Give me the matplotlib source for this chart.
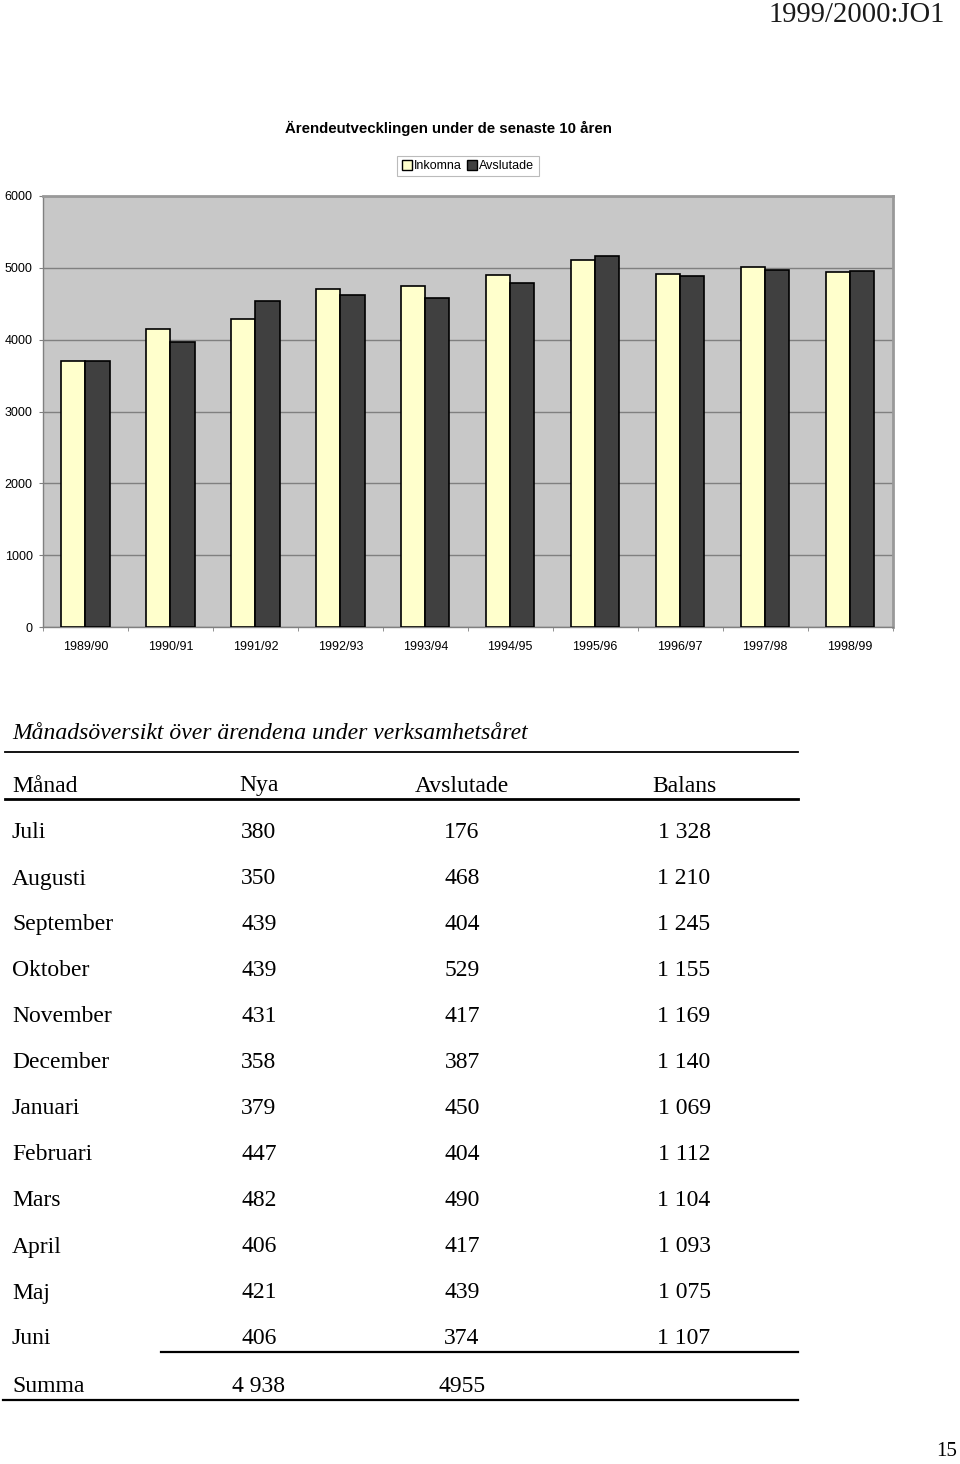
import matplotlib
matplotlib.use('Agg')
import matplotlib.pyplot as plt
from matplotlib.lines import Line2D
from matplotlib.patches import Patch

# chart data
seasons = ['1989/90', '1990/91', '1991/92', '1992/93', '1993/94',
           '1994/95', '1995/96', '1996/97', '1997/98', '1998/99']
inkomna = [3700, 4150, 4290, 4700, 4745, 4895, 5115, 4910, 5005, 4938]
avslutade = [3700, 3970, 4535, 4620, 4580, 4790, 5160, 4880, 4970, 4955]

# table data
months = ['Juli', 'Augusti', 'September', 'Oktober', 'November', 'December',
          'Januari', 'Februari', 'Mars', 'April', 'Maj', 'Juni']
nya = ['380', '350', '439', '439', '431', '358', '379', '447', '482', '406', '421', '406']
avsl = ['176', '468', '404', '529', '417', '387', '450', '404', '490', '417', '439', '374']
balans = ['1 328', '1 210', '1 245', '1 155', '1 169', '1 140', '1 069',
          '1 112', '1 104', '1 093', '1 075', '1 107']
headers = ['Månad', 'Nya', 'Avslutade', 'Balans']
summa = ['Summa', '4 938', '4955', '']

W, H = 960, 1464
fig = plt.figure(figsize=(W / 100, H / 100), dpi=100)
sans = 'Liberation Sans'
serif = 'Liberation Serif'

def fy(y):
    return 1 - y / H

def fx(x):
    return x / W

# ---- bar chart ----
ax = fig.add_axes([fx(43), fy(627), fx(892.5) - fx(43), (627 - 196) / H])
ax.set_facecolor('#c8c8c8')
x = list(range(len(seasons)))
bw = 0.285
ax.bar([i - bw / 2 for i in x], inkomna, bw, color='#ffffcc', edgecolor='black', lw=1.2, zorder=3)
ax.bar([i + bw / 2 for i in x], avslutade, bw, color='#404040', edgecolor='black', lw=1.2, zorder=3)
ax.set_xlim(-0.5, len(seasons) - 0.5)
ax.set_ylim(0, 6000)
ax.set_yticks(range(0, 6001, 1000))
ax.set_yticklabels([str(v) for v in range(0, 6001, 1000)], fontsize=9, family=sans)
ax.set_xticks(x)
ax.set_xticklabels(seasons, fontsize=9, family=sans)
ax.set_xticks([i - 0.5 for i in range(len(seasons) + 1)], minor=True)
ax.tick_params(axis='x', which='major', length=0, pad=10)
ax.tick_params(axis='x', which='minor', length=3, color='#808080')
ax.tick_params(axis='y', length=3, color='#808080', pad=4.5)
ax.grid(axis='y', color='#808080', lw=1, zorder=1)
for s in ['left', 'bottom']:
    ax.spines[s].set_color('#808080')
    ax.spines[s].set_linewidth(1)
for s in ['top', 'right']:
    ax.spines[s].set_color('#999999')
    ax.spines[s].set_linewidth(2)

fig.text(fx(448), fy(128), 'Ärendeutvecklingen under de senaste 10 åren',
         ha='center', va='center', fontsize=10.8, fontweight='bold', family=sans)

handles = [Patch(facecolor='#ffffcc', edgecolor='black'),
           Patch(facecolor='#404040', edgecolor='black')]
leg = fig.legend(handles, ['Inkomna', 'Avslutade'], loc='center',
                 bbox_to_anchor=(fx(468), fy(166)), ncol=2,
                 prop={'family': sans, 'size': 9},
                 handlelength=0.8, handleheight=0.8, handletextpad=0.2,
                 columnspacing=0.4, borderpad=0.35, fancybox=False,
                 borderaxespad=0)
leg.get_frame().set_edgecolor('#aaaaaa')
leg.get_frame().set_linewidth(0.8)

# ---- page header / footer ----
fig.text(fx(945), fy(15), '1999/2000:JO1', ha='right', va='center',
         fontsize=20.6, family=serif, color='#1a1a1a')
fig.text(fx(957), fy(1452), '15', ha='right', va='center', fontsize=15, family=serif)

# ---- table ----
tsize = 17
fig.text(fx(12), fy(734), 'Månadsöversikt över ärendena under verksamhetsåret',
         ha='left', va='center', fontsize=tsize, style='italic', family=serif)

col_x = [12, 259, 462, 684]
col_ha = ['left', 'center', 'center', 'center']

def row(vals, y):
    for v, cx, ha in zip(vals, col_x, col_ha):
        fig.text(fx(cx), fy(y), v, ha=ha, va='center', fontsize=tsize, family=serif)

row(headers, 786)
for i, m in enumerate(months):
    row([m, nya[i], avsl[i], balans[i]], 833 + i * 46)
row(summa, 1386)

def hline(x0, x1, y, lw):
    fig.add_artist(Line2D([fx(x0), fx(x1)], [fy(y), fy(y)], color='black', lw=lw,
                          transform=fig.transFigure))

hline(5, 798, 752, 1.3)
hline(5, 798, 799, 2.0)
hline(161, 798, 1352, 1.6)
hline(3, 798, 1400, 1.6)

fig.savefig('out.png', dpi=100)
